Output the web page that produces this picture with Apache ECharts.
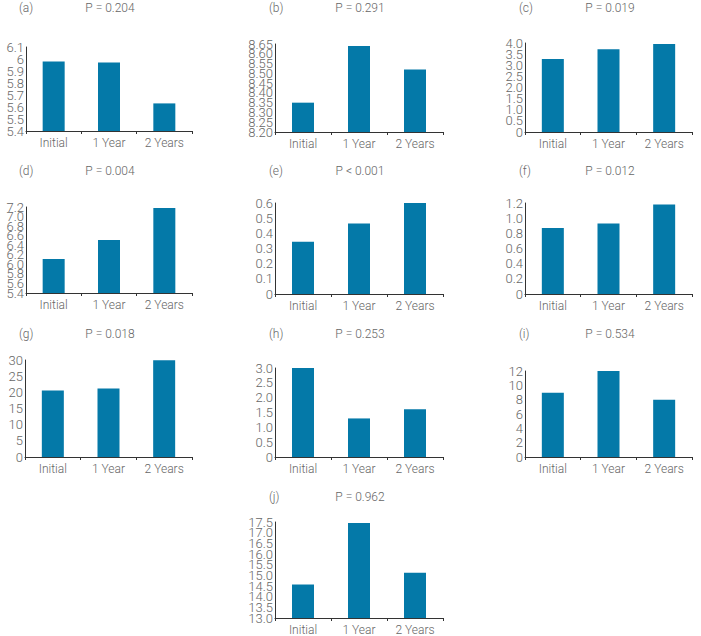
<!DOCTYPE html>
<html>
<head>
<meta charset="utf-8">
<script src="https://cdn.jsdelivr.net/npm/echarts@6/dist/echarts.min.js"></script>
<style>
  html, body { margin: 0; padding: 0; background: #fff; }
  #chart { width: 701px; height: 636px; }
</style>
</head>
<body>
<div id="chart"></div>
<script>
// 数据
var categories = ['Initial', '1 Year', '2 Years'];
var panelLetters = ['(a)', '(b)', '(c)', '(d)', '(e)', '(f)', '(g)', '(h)', '(i)', '(j)'];
var pLabels = ['P = 0.204', 'P = 0.291', 'P = 0.019', 'P = 0.004', 'P < 0.001',
  'P = 0.012', 'P = 0.018', 'P = 0.253', 'P = 0.534', 'P = 0.962'];

var valuesA = [5.98, 5.97, 5.63];
var valuesB = [8.35, 8.64, 8.52];
var valuesC = [3.28, 3.72, 3.96];
var valuesD = [6.11, 6.51, 7.18];
var valuesE = [0.345, 0.465, 0.6];
var valuesF = [0.87, 0.93, 1.18];
var valuesG = [20.6, 21.2, 29.9];
var valuesH = [3.0, 1.3, 1.61];
var valuesI = [8.96, 12, 7.98];
var valuesJ = [14.57, 17.45, 15.12];
var allValues = [valuesA, valuesB, valuesC, valuesD, valuesE, valuesF, valuesG, valuesH, valuesI, valuesJ];

// y轴刻度: min / max / interval / 小数位 (-1 = 默认)
var yMin = [5.4, 8.2, 0, 5.4, 0, 0, 0, 0, 0, 13];
var yMax = [6.1, 8.65, 4, 7.2, 0.6, 1.2, 30, 3, 12, 17.5];
var yStep = [0.1, 0.05, 0.5, 0.2, 0.1, 0.2, 5, 0.5, 2, 0.5];
var yDecimals = [-1, 2, 1, 1, -1, 1, 0, 1, 0, 1];

// 布局 (px)
var gridBoxes = [
  { left: 26, top: 47, width: 166, height: 84 },
  { left: 275, top: 44, width: 168, height: 88 },
  { left: 525, top: 43, width: 167, height: 89 },
  { left: 26, top: 207, width: 166, height: 86 },
  { left: 275, top: 203, width: 168, height: 91 },
  { left: 525, top: 203, width: 167, height: 91 },
  { left: 25, top: 360, width: 167, height: 97 },
  { left: 275, top: 368, width: 168, height: 89 },
  { left: 525, top: 371, width: 167, height: 86 },
  { left: 275, top: 522, width: 168, height: 98 }
];
var labelPos = [
  { x: 0, y: 8 }, { x: 250, y: 8 }, { x: 500, y: 8 },
  { x: 0, y: 171 }, { x: 250, y: 171 }, { x: 500, y: 171 },
  { x: 0, y: 334 }, { x: 250, y: 334 }, { x: 500, y: 334 },
  { x: 250, y: 497 }
];

var barColor = '#0479a8';
var textColor = '#666';
var axisColor = '#333';
var fontFamily = 'Roboto, "Liberation Sans", sans-serif';

function makeFormatter(dec, i, onlyEnds) {
  return function (v) {
    var isEnd = Math.abs(v - yMin[i]) < 1e-9 || Math.abs(v - yMax[i]) < 1e-9;
    if (onlyEnds && !isEnd) return '';
    if (v === 0) return '0';
    if (dec < 0) return String(+v.toFixed(4));
    return v.toFixed(dec);
  };
}

var grids = [], xAxes = [], yAxes = [], series = [], graphics = [];
allValues.forEach(function (vals, i) {
  grids.push(gridBoxes[i]);
  xAxes.push({
    type: 'category',
    gridIndex: i,
    data: categories,
    axisLine: { lineStyle: { color: axisColor, width: 1 } },
    axisTick: { show: true, length: 3, lineStyle: { color: axisColor } },
    axisLabel: { color: textColor, fontSize: 12, fontWeight: 300, fontFamily: fontFamily, margin: 6 }
  });
  var dec = yDecimals[i];
  var labelStyle = {
    color: textColor,
    fontSize: 13,
    fontWeight: 300,
    fontFamily: fontFamily,
    margin: 2,
    hideOverlap: false
  };
  // 主轴: 中间刻度标签
  yAxes.push({
    type: 'value',
    gridIndex: i,
    min: yMin[i],
    max: yMax[i],
    interval: yStep[i],
    axisLine: { show: true, lineStyle: { color: axisColor, width: 1 } },
    axisTick: { show: false },
    splitLine: { show: false },
    axisLabel: Object.assign({}, labelStyle, {
      showMinLabel: false,
      showMaxLabel: false,
      formatter: makeFormatter(dec, i, false)
    })
  });
  // 辅助轴: 只显示首尾刻度标签
  yAxes.push({
    type: 'value',
    gridIndex: i,
    position: 'left',
    min: yMin[i],
    max: yMax[i],
    interval: yStep[i],
    axisLine: { show: false },
    axisTick: { show: false },
    splitLine: { show: false },
    axisLabel: Object.assign({}, labelStyle, {
      showMinLabel: true,
      showMaxLabel: true,
      formatter: makeFormatter(dec, i, true)
    })
  });
  series.push({
    type: 'bar',
    xAxisIndex: i,
    yAxisIndex: i * 2,
    data: vals,
    barWidth: 22,
    itemStyle: { color: barColor }
  });
  graphics.push({
    type: 'text',
    x: labelPos[i].x + 19,
    y: labelPos[i].y,
    style: { text: panelLetters[i], fill: textColor, fontSize: 12, fontWeight: 300, fontFamily: fontFamily, textVerticalAlign: 'middle' }
  });
  graphics.push({
    type: 'text',
    x: labelPos[i].x + 110,
    y: labelPos[i].y,
    style: { text: pLabels[i], fill: textColor, fontSize: 12, fontWeight: 300, fontFamily: fontFamily, textAlign: 'center', textVerticalAlign: 'middle' }
  });
});

var option = {
  backgroundColor: '#fff',
  animation: false,
  grid: grids,
  xAxis: xAxes,
  yAxis: yAxes,
  series: series,
  graphic: graphics
};

var myChart = echarts.init(document.getElementById('chart'), null, { renderer: 'svg' });
myChart.setOption(option);
window.addEventListener('resize', function () {
  myChart.resize();
});
</script>
</body>
</html>
